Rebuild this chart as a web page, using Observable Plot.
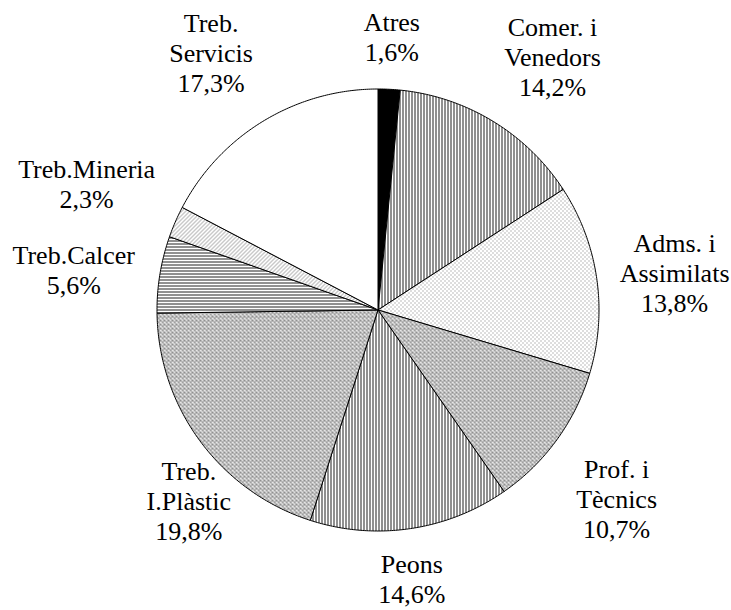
<!DOCTYPE html>
<html>
<head>
<meta charset="utf-8">
<script src="https://cdn.jsdelivr.net/npm/d3@7"></script>
<script src="https://cdn.jsdelivr.net/npm/@observablehq/plot@0.6"></script>
<style>
  html, body { margin: 0; padding: 0; background: #fff; }
  #chart svg { display: block; }
</style>
</head>
<body>
<div id="chart"></div>
<script>
// ---- data ----
const categories = ["Atres", "Comer. i\nVenedors", "Adms. i\nAssimilats", "Prof. i\nTècnics", "Peons", "Treb.\nI.Plàstic", "Treb.Calcer", "Treb.Mineria", "Treb.\nServicis"];
const values = [1.6, 14.2, 13.8, 10.7, 14.6, 19.8, 5.6, 2.3, 17.3];
const percentLabels = ["1,6%", "14,2%", "13,8%", "10,7%", "14,6%", "19,8%", "5,6%", "2,3%", "17,3%"];

// ---- styling (pattern ids per slice) ----
const fills = ["black", "url(#vlines)", "url(#dots)", "url(#checks)", "url(#vlines)", "url(#checks)", "url(#hlines)", "url(#diag)", "white"];

// ---- layout ----
const W = 731, H = 610;
const cx = 377.5, cy = 309.5, R = 221;
const FONT = 26, LINE = 30, GAP = 22;
const FAMILY = "Liberation Serif";
// small label placement adjustments (pixels, +x right, +y down)
const nudge = {
  "Comer. i\nVenedors": [15, 8],
  "Adms. i\nAssimilats": [0, 6],
  "Prof. i\nTècnics": [-6, 11],
  "Peons": [-7, 0],
  "Treb.\nI.Plàstic": [55, 10],
  "Treb.Calcer": [0, 9],
  "Treb.\nServicis": [-10, 2]
};

const total = d3.sum(values);
const slices = [];
let cum = 0;
values.forEach((v, i) => {
  const a0 = cum / total * 2 * Math.PI;
  cum += v;
  const a1 = cum / total * 2 * Math.PI;
  const n = Math.max(2, Math.ceil((a1 - a0) / (Math.PI / 360)));
  slices.push({key: categories[i], x: 0, y: 0});
  for (let k = 0; k <= n; k++) {
    const t = a0 + (a1 - a0) * k / n;
    slices.push({key: categories[i], x: Math.sin(t), y: Math.cos(t)});
  }
  slices.push({key: categories[i], x: 0, y: 0});
});

const ctx = document.createElement("canvas").getContext("2d");
ctx.font = `${FONT}px '${FAMILY}'`;
cum = 0;
const labelData = values.map((v, i) => {
  const mid = (cum + v / 2) / total * 2 * Math.PI;
  cum += v;
  const text = categories[i] + "\n" + percentLabels[i];
  const lines = text.split("\n");
  const w = d3.max(lines, l => ctx.measureText(l).width);
  const h = lines.length * LINE;
  const d = R + GAP + w / 2 * Math.abs(Math.sin(mid)) + h / 2 * Math.abs(Math.cos(mid));
  const nd = nudge[categories[i]] || [0, 0];
  // pixel position, then clamp the label box inside the canvas
  let px = cx + d * Math.sin(mid) + nd[0];
  let py = cy - d * Math.cos(mid) + nd[1];
  px = Math.max(w / 2 + 2, Math.min(W - 2 - w / 2, px));
  py = Math.max(h / 2 + 2, Math.min(H - 2 - h / 2, py));
  return {text, x: (px - cx) / R, y: (cy - py) / R};
});

const plot = Plot.plot({
  width: W,
  height: H,
  margin: 0,
  x: {domain: [-cx / R, (W - cx) / R], range: [0, W], axis: null},
  y: {domain: [-(H - cy) / R, cy / R], range: [H, 0], axis: null},
  color: {type: "ordinal", domain: categories, range: fills},
  marks: [
    Plot.line(slices, {x: "x", y: "y", z: "key", fill: "key", stroke: "black", strokeWidth: 1, strokeLinejoin: "round"}),
    Plot.text(labelData, {x: "x", y: "y", text: "text", fontSize: FONT, fontFamily: FAMILY, lineHeight: LINE / FONT, textAnchor: "middle", lineAnchor: "middle", fill: "black"})
  ]
});

const svg = d3.select(plot);
svg.style("background", "white");
svg.selectAll("text").style("font-family", `"${FAMILY}", "Times New Roman", serif`);

// pattern definitions
const defs = svg.insert("defs", ":first-child");
function pat(id, w, h) {
  const p = defs.append("pattern").attr("id", id).attr("patternUnits", "userSpaceOnUse")
    .attr("width", w).attr("height", h).attr("shape-rendering", "crispEdges");
  p.append("rect").attr("width", w).attr("height", h).attr("fill", "white");
  return p;
}
let p = pat("vlines", 3, 3);
p.append("rect").attr("x", 0).attr("y", 0).attr("width", 1).attr("height", 3).attr("fill", "#222");
p = pat("hlines", 3, 3);
p.append("rect").attr("x", 0).attr("y", 0).attr("width", 3).attr("height", 1).attr("fill", "#222");
p = pat("dots", 4, 4);
p.append("rect").attr("x", 0).attr("y", 0).attr("width", 1).attr("height", 1).attr("fill", "#777");
p.append("rect").attr("x", 2).attr("y", 2).attr("width", 1).attr("height", 1).attr("fill", "#777");
p = pat("checks", 4, 4);
p.attr("shape-rendering", null);
p.append("path").attr("d", "M0,0L4,4M4,0L0,4").attr("stroke", "#8a8a8a").attr("stroke-width", 1.1);
p = pat("diag", 4, 4);
p.attr("shape-rendering", null);
p.append("path").attr("d", "M-1,1L1,-1M0,4L4,0M3,5L5,3").attr("stroke", "#777").attr("stroke-width", 0.8);

document.getElementById("chart").appendChild(plot);
</script>
</body>
</html>
